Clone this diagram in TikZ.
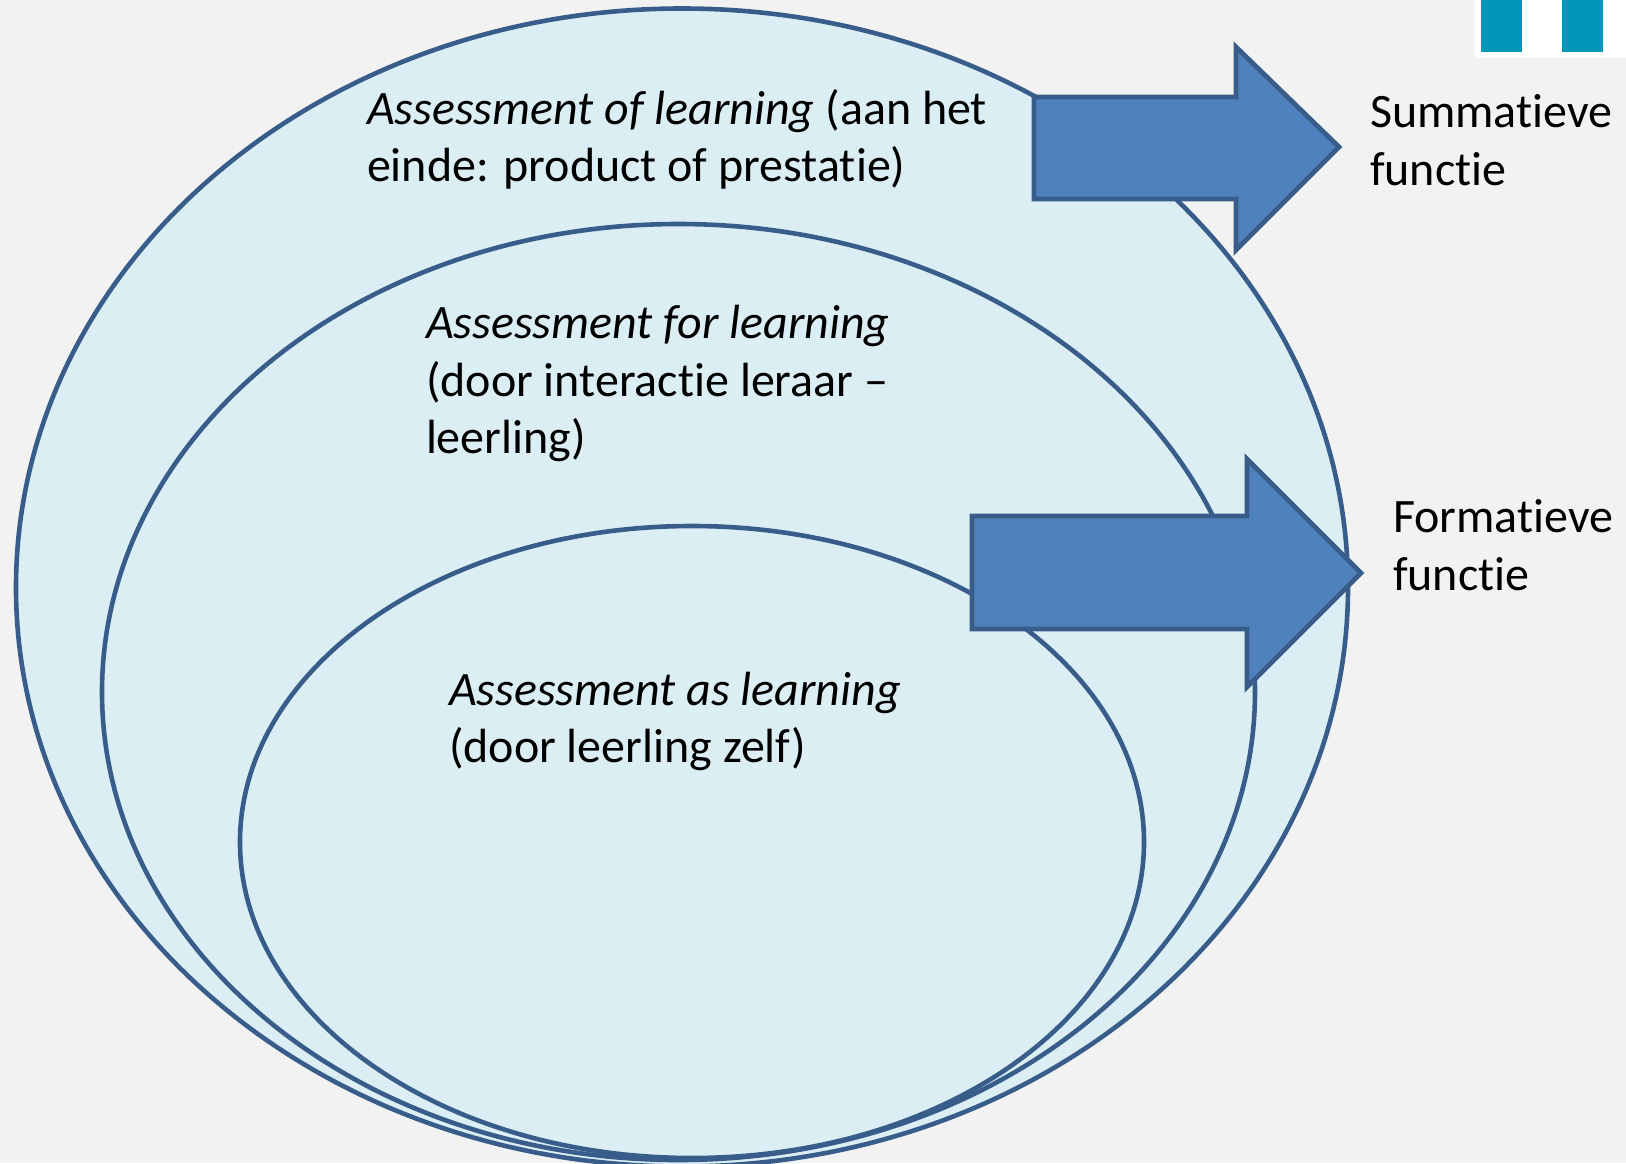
\documentclass[tikz,border=0pt]{standalone}
\usepackage{fontspec}
\setmainfont[Ligatures=CommonOff]{Carlito}
\definecolor{bgc}{HTML}{F2F2F2}
\definecolor{ellfill}{HTML}{DBEEF4}
\definecolor{ink}{HTML}{385D8A}
\definecolor{arrowfill}{HTML}{4F81BD}
\definecolor{teal}{HTML}{0097B8}
\tikzset{
  ell/.style={draw=ink,fill=ellfill,line width=4.6pt},
  bigarrow/.style={draw=ink,fill=arrowfill,line width=4.8pt,line join=miter},
  label/.style={anchor=base west,align=left,inner sep=0pt,outer sep=0pt,font=\fontsize{48}{57.5}\selectfont},
}
\begin{document}
\begin{tikzpicture}[x=1pt,y=-1pt]
\useasboundingbox (0,0) rectangle (1626,1163);
\fill[bgc] (0,0) rectangle (1626,1163);
\fill[white] (1475,0) rectangle (1626,58);
\fill[teal] (1481,0) rectangle (1522,52);
\fill[teal] (1562,0) rectangle (1603,52);
\clip (0,0) rectangle (1626,1163);
\draw[ell] (682,587.5) ellipse [x radius=666,y radius=579];
\draw[ell] (678.5,692) ellipse [x radius=576.5,y radius=468];
\draw[ell] (692,842) ellipse [x radius=452,y radius=316];
\draw[bigarrow] (1034,97) -- (1236,97) -- (1236,47) -- (1339,147) -- (1236,250) -- (1236,199) -- (1034,199) -- cycle;
\draw[bigarrow] (972,516) -- (1247,516) -- (1247,459) -- (1361,573) -- (1247,687) -- (1247,629) -- (972,629) -- cycle;
\node[label] (of) at (367,181.5) {\textit{Assessment of learning} (aan het\\einde: product of prestatie)};
\node[label] (for) at (426,453.5) {\textit{Assessment for learning}\\(door interactie leraar --\\leerling)};
\node[label] (as) at (449,762.5) {\textit{Assessment as learning}\\(door leerling zelf)};
\node[label] (sum) at (1370,185) {Summatieve\\functie};
\node[label] (form) at (1393,590) {Formatieve\\functie};
\end{tikzpicture}
\end{document}
